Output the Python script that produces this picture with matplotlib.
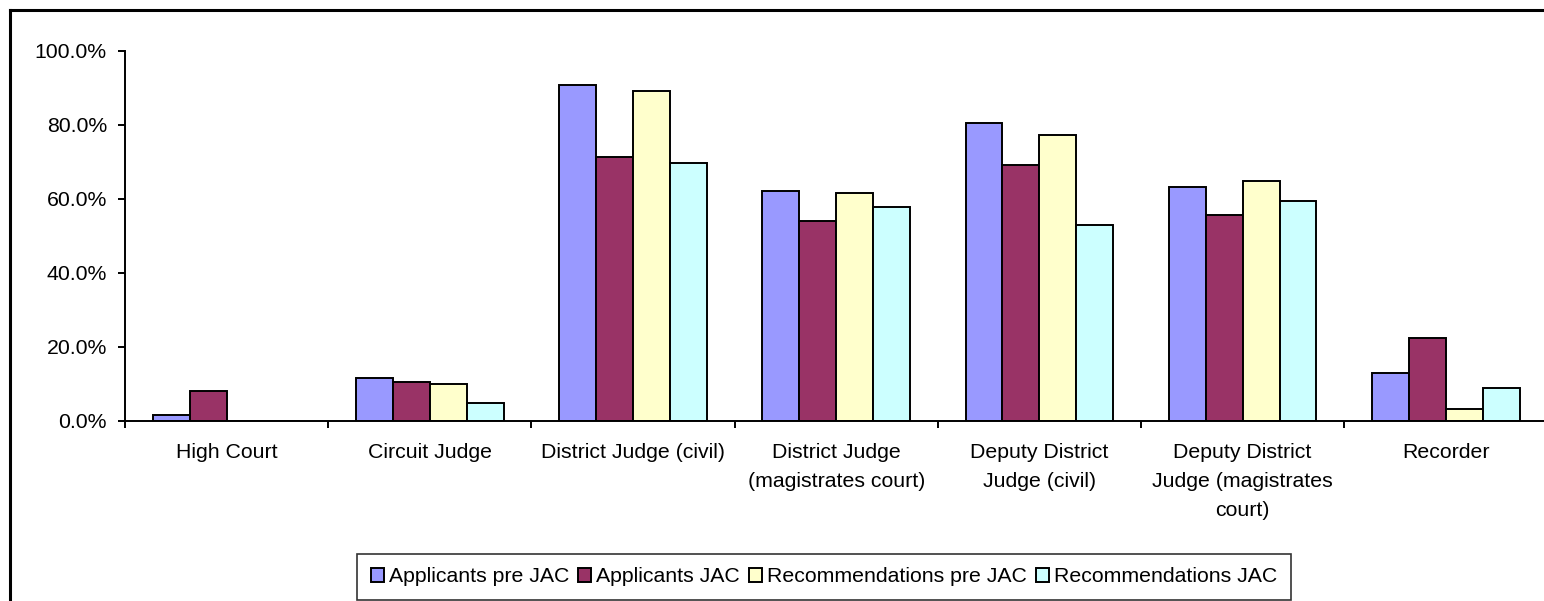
import numpy as np
import matplotlib
matplotlib.use("Agg")
import matplotlib.pyplot as plt
from matplotlib.lines import Line2D
from matplotlib.ticker import FuncFormatter, FixedLocator

plt.rcParams['font.family'] = ['Liberation Sans', 'DejaVu Sans']

categories = [
    "High Court",
    "Circuit Judge",
    "District Judge (civil)",
    "District Judge\n(magistrates court)",
    "Deputy District\nJudge (civil)",
    "Deputy District\nJudge (magistrates\ncourt)",
    "Recorder",
]
series_names = [
    "Applicants pre JAC",
    "Applicants JAC",
    "Recommendations pre JAC",
    "Recommendations JAC",
]
applicants_pre_jac = [1.5, 11.7, 90.8, 62.2, 80.5, 63.2, 13.0]
applicants_jac = [8.0, 10.6, 71.2, 54.1, 69.2, 55.7, 22.5]
recommendations_pre_jac = [0.0, 10.1, 89.2, 61.6, 77.3, 64.8, 3.2]
recommendations_jac = [0.0, 4.9, 69.6, 57.8, 53.0, 59.4, 9.0]
series_values = [applicants_pre_jac, applicants_jac,
                 recommendations_pre_jac, recommendations_jac]
colors = ["#9999FF", "#993366", "#FFFFCC", "#CCFFFF"]
y_ticks = [0, 20, 40, 60, 80, 100]

FS = 15.3
W, H = 1544, 601
fig = plt.figure(figsize=(W / 100, H / 100), dpi=100)

# plot area: left spine at x=125, baseline at y=421, 100% at y=50.7
ax_left = 125 / W
cat_w = 203.2
n = len(categories)
ax_width = n * cat_w / W
ax_bottom = 1 - 421 / H
ax_height = (421 - 50.7) / H
ax = fig.add_axes([ax_left, ax_bottom, ax_width, ax_height])

x = np.arange(n)
gap = 1.5
bw = 1 / (4 + gap)
for i, (name, vals, c) in enumerate(zip(series_names, series_values, colors)):
    offs = -0.5 + gap * bw / 2 + bw * (i + 0.5)
    ax.bar(x + offs, [v / 100 for v in vals], width=bw, color=c,
           edgecolor="black", linewidth=1.4, label=name, zorder=2)

ax.set_xlim(-0.5, n - 0.5)
ax.set_ylim(0, 1.0)

for s in ["top", "right"]:
    ax.spines[s].set_visible(False)
for s in ["left", "bottom"]:
    ax.spines[s].set_linewidth(1.4)
    ax.spines[s].set_color("black")

ax.yaxis.set_major_locator(FixedLocator([v / 100 for v in y_ticks]))
ax.yaxis.set_major_formatter(FuncFormatter(lambda v, p: f"{v * 100:.1f}%"))
ax.tick_params(axis="y", direction="out", length=5, width=1.4, pad=8,
               labelsize=FS, colors="black")

ax.set_xticks(x)
ax.set_xticklabels(categories, fontsize=FS, linespacing=1.66, va="top")
ax.tick_params(axis="x", which="major", length=0, pad=16)
ax.set_xticks(np.arange(n + 1) - 0.5, minor=True)
ax.tick_params(axis="x", which="minor", direction="out", length=5, width=1.4)

leg = fig.legend(loc="center", bbox_to_anchor=(824 / W, 1 - 577 / H),
                 ncol=4, fontsize=FS, frameon=True, fancybox=False,
                 handlelength=0.62, handleheight=0.62, handletextpad=0.25,
                 columnspacing=0.4, borderpad=0.62, borderaxespad=0)
leg.get_frame().set_edgecolor("black")
leg.get_frame().set_linewidth(1.2)

# outer chart border
fig.add_artist(Line2D([10 / W, 10 / W], [0, 1 - 10 / H], transform=fig.transFigure,
                      color="black", linewidth=2.2))
fig.add_artist(Line2D([10 / W, 1], [1 - 10 / H, 1 - 10 / H], transform=fig.transFigure,
                      color="black", linewidth=2.2))

fig.savefig("out.png", dpi=100, facecolor="white")
